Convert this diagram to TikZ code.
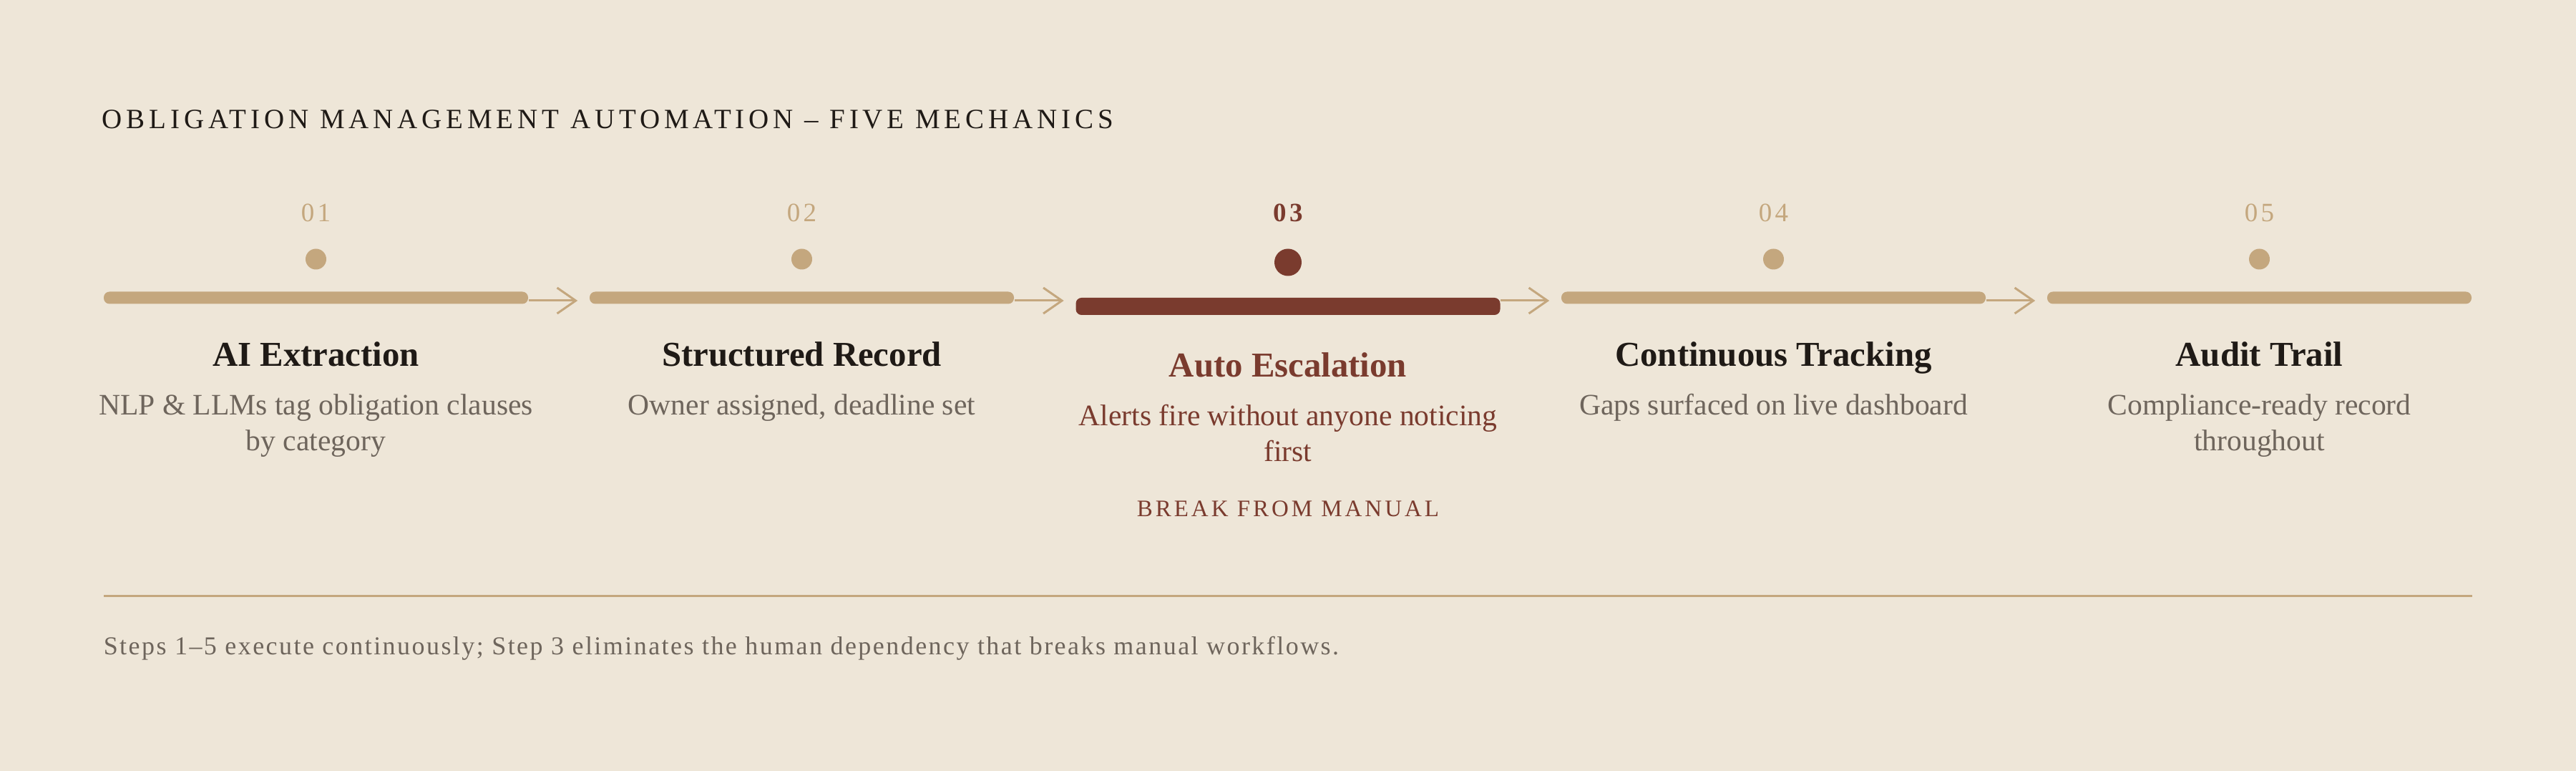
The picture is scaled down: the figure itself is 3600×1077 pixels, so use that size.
\documentclass[tikz,border=0pt]{standalone}
\usepackage{fontspec}
\setmainfont{Liberation Serif}
\newfontfamily\spacedfont[LetterSpace=12]{Liberation Serif}
\newfontfamily\widefont[LetterSpace=15]{Liberation Serif}
\newfontfamily\notefont[LetterSpace=6.8]{Liberation Serif}
\usetikzlibrary{arrows.meta}
\definecolor{paper}{HTML}{EEE6D8}
\definecolor{sand}{HTML}{C4A77E}
\definecolor{rust}{HTML}{7A3B2E}
\definecolor{ink}{HTML}{1F1A16}
\definecolor{muted}{HTML}{6E655C}

\begin{document}
\begin{tikzpicture}[
        x=0.25pt, y=-0.25pt,
        track/.style={rectangle, rounded corners=2pt, fill=sand, minimum width=148.25pt, minimum height=4.25pt, inner sep=0pt},
        activetrack/.style={track, fill=rust, minimum height=6pt},
        marker/.style={circle, fill=sand, minimum size=7.25pt, inner sep=0pt},
        activemarker/.style={marker, fill=rust, minimum size=9.5pt},
        stepnum/.style={anchor=base, inner sep=0pt, text=sand, font=\spacedfont\fontsize{9.25}{11}\selectfont},
        steptitle/.style={anchor=base, inner sep=0pt, text=ink, font=\bfseries\fontsize{12.2}{14}\selectfont},
        stepdesc/.style={anchor=base, inner sep=0pt, align=center, text=muted, font=\fontsize{10.4}{12.5}\selectfont},
        flow/.style={draw=sand, line width=0.75pt, -{Straight Barb[length=6.5pt, width=9pt]}},
    ]
	\useasboundingbox[fill=paper] (0,0) rectangle (3600,1077);
	\node[anchor=base west, inner sep=0pt, text=ink, font=\widefont\fontsize{9.75}{12}\selectfont] (heading) at (142,180) {OBLIGATION MANAGEMENT AUTOMATION – FIVE MECHANICS};

	\node[stepnum] (num1) at (441.5,310) {01};
	\node[stepnum] (num2) at (1120.5,310) {02};
	\node[stepnum, text=rust, font=\spacedfont\bfseries\fontsize{9.25}{11}\selectfont] (num3) at (1800,310) {03};
	\node[stepnum] (num4) at (2478.5,310) {04};
	\node[stepnum] (num5) at (3157.5,310) {05};

	\node[marker] (dot1) at (441.5,362) {};
	\node[marker] (dot2) at (1120.5,362) {};
	\node[activemarker] (dot3) at (1800,366.5) {};
	\node[marker] (dot4) at (2478.5,362) {};
	\node[marker] (dot5) at (3157.5,362) {};

	\node[track] (bar1) at (441.5,416) {};
	\node[track] (bar2) at (1120.5,416) {};
	\node[activetrack] (bar3) at (1800,428) {};
	\node[track] (bar4) at (2478.5,416) {};
	\node[track] (bar5) at (3157.5,416) {};

	\coordinate (axis) at (0,420);
	\draw[flow] (bar1.east |- axis) -- ([xshift=-4pt]bar2.west |- axis);
	\draw[flow] (bar2.east |- axis) -- ([xshift=-4pt]bar3.west |- axis);
	\draw[flow] (bar3.east |- axis) -- ([xshift=-4pt]bar4.west |- axis);
	\draw[flow] (bar4.east |- axis) -- ([xshift=-4pt]bar5.west |- axis);

	\node[steptitle] (ttl1) at (441.5,512) {AI Extraction};
	\node[steptitle] (ttl2) at (1120.5,512) {Structured Record};
	\node[steptitle, text=rust] (ttl3) at (1800,527) {Auto Escalation};
	\node[steptitle] (ttl4) at (2478.5,512) {Continuous Tracking};
	\node[steptitle] (ttl5) at (3157.5,512) {Audit Trail};

	% two-line texts sit on their last baseline
	\node[stepdesc] (desc1) at (441.5,630) {NLP \& LLMs tag obligation clauses\\by category};
	\node[stepdesc] (desc2) at (1120.5,580) {Owner assigned, deadline set};
	\node[stepdesc, text=rust] (desc3) at (1800,645) {Alerts fire without anyone noticing\\first};
	\node[stepdesc] (desc4) at (2478.5,580) {Gaps surfaced on live dashboard};
	\node[stepdesc] (desc5) at (3157.5,630) {Compliance-ready record\\throughout};

	\node[anchor=base, inner sep=0pt, text=rust, font=\spacedfont\fontsize{8.25}{10}\selectfont] (breakout) at (1800,722) {BREAK FROM MANUAL};

	\coordinate (ruleL) at (145,832.5);
	\coordinate (ruleR) at (3455,832.5);
	\draw[sand, line width=0.75pt] (ruleL) -- (ruleR);
	\node[anchor=base west, inner sep=0pt, text=muted, font=\notefont\fontsize{9}{11}\selectfont] (footnote) at (144,915) {Steps 1–5 execute continuously; Step 3 eliminates the human dependency that breaks manual workflows.};
    \end{tikzpicture}
\end{document}
